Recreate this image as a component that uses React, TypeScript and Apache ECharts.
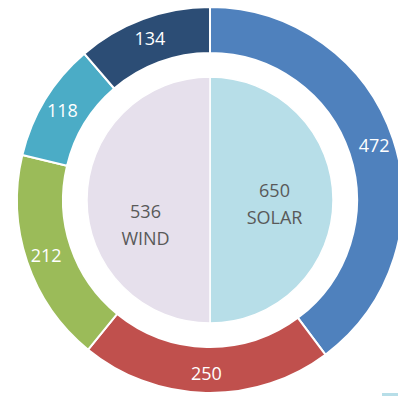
import React, { useEffect, useRef } from "react";
import * as echarts from "echarts";

const ringValues = [472, 250, 212, 118, 134];
const ringColors = ["#4F81BD", "#C0504D", "#9BBB59", "#4BACC6", "#2C4D75"];

const innerNames = ["SOLAR", "WIND"];
const innerValues = [650, 536];
// the reference draws the two inner slices as equal halves
const innerSliceShares = [50, 50];
const innerColors = ["#B7DEE8", "#E6E0EC"];

export default function App() {
  const ref = useRef<HTMLDivElement>(null);
  useEffect(() => {
    document.body.style.margin = "0";
    const chart = echarts.init(ref.current!, null, { renderer: "svg" });
    const center = ["210", "200"];
    const labelOffsets = [
      [0, 3],
      [0, 24],
    ];
    chart.setOption({
      animation: false,
      backgroundColor: "#ffffff",
      series: [
        {
          type: "pie",
          center,
          radius: [147, 193],
          startAngle: 90,
          clockwise: true,
          silent: true,
          itemStyle: { borderColor: "#ffffff", borderWidth: 2 },
          label: {
            show: true,
            position: "inside",
            color: "#ffffff",
            fontFamily: "Open Sans",
            fontSize: 18,
            formatter: (p: any) => String(p.value),
          },
          labelLine: { show: false },
          data: ringValues.map((v, i) => ({
            value: v,
            name: "r" + i,
            itemStyle: { color: ringColors[i] },
          })),
        },
        {
          type: "pie",
          center,
          radius: [0, 123],
          startAngle: 90,
          clockwise: true,
          silent: true,
          itemStyle: { borderColor: "#ffffff", borderWidth: 1.5 },
          label: {
            show: true,
            position: "inside",
            color: "#595959",
            fontFamily: "Open Sans",
            fontSize: 18,
            lineHeight: 27,
            formatter: (p: any) => innerValues[p.dataIndex] + "\n" + innerNames[p.dataIndex],
          },
          labelLine: { show: false },
          data: innerSliceShares.map((v, i) => ({
            value: v,
            name: innerNames[i],
            itemStyle: { color: innerColors[i] },
            label: { offset: labelOffsets[i] },
          })),
        },
      ],
      graphic: [
        {
          type: "rect",
          shape: { x: 382, y: 393, width: 16, height: 3 },
          style: { fill: "#B7DEE8" },
        },
      ],
    });
    return () => chart.dispose();
  }, []);
  return <div ref={ref} style={{ width: 398, height: 396 }} />;
}
